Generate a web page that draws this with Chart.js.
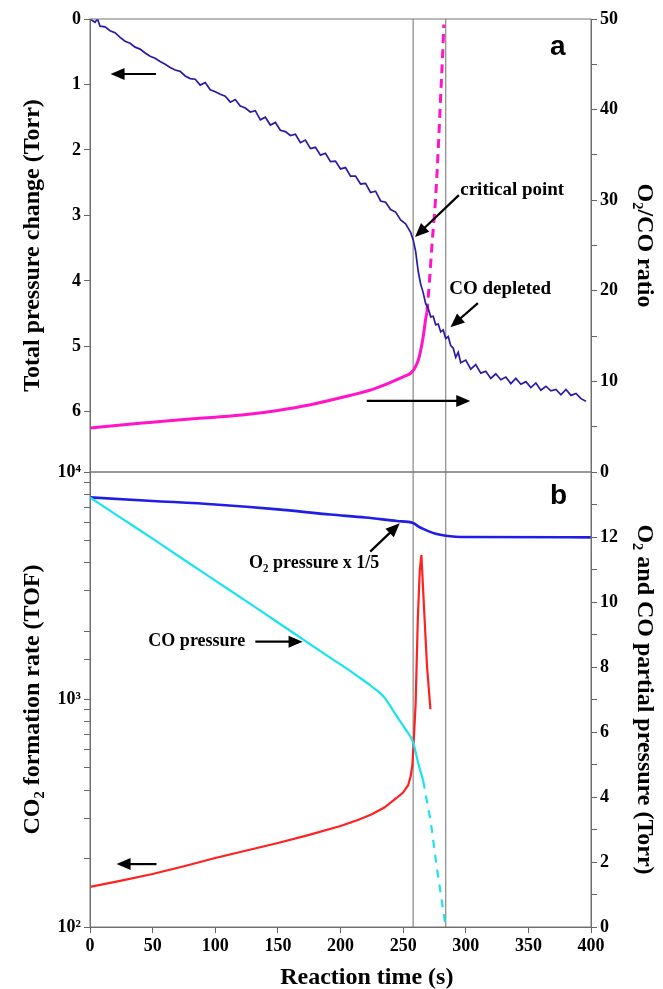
<!DOCTYPE html>
<html>
<head>
<meta charset="utf-8">
<script src="https://cdn.jsdelivr.net/npm/chart.js@4.4.1/dist/chart.umd.min.js"></script>
<style>
  html, body { margin: 0; padding: 0; background: #fff; }
  #wrap { position: relative; width: 663px; height: 989px; overflow: hidden; }
  #wrap canvas { position: absolute; left: 0; }
  #top { top: 0; }
  #bot { top: 440px; }
</style>
</head>
<body>
<div id="wrap">
  <canvas id="top" width="663" height="500"></canvas>
  <canvas id="bot" width="663" height="549"></canvas>
</div>
<script>
// ---- panel a: total pressure change (left, reversed) and O2/CO ratio (right)
const pressureTime = [0,4,6,8,12,16,20,24,28,32,36,40,44,48,52,56,60,64,68,72,76,80,84,88,92,96,
  100,104,108,112,116,120,124,128,132,136,140,144,148,152,156,160,164,168,172,176,180,184,188,192,196,
  200,204,208,212,216,220,224,228,232,236,240,244,248,252,256,258,260,262,264,266,268,270,272,274,276,
  278,280,282,284,286,288,290,292,294,296,300,304,308,312,316,320,324,328,332,336,340,344,348,352,356,
  360,364,368,372,376,380,384,388,392,396];
const pressureDrop = [0.00,0.05,0.00,0.11,0.12,0.18,0.21,0.28,0.34,0.37,0.43,0.46,0.52,0.57,0.60,0.65,0.69,0.74,0.78,0.80,0.87,0.91,0.92,1.01,0.97,1.08,
  1.11,1.15,1.18,1.27,1.23,1.33,1.36,1.42,1.40,1.54,1.50,1.62,1.58,1.70,1.72,1.78,1.76,1.89,1.85,1.98,1.96,2.08,2.05,2.18,2.17,
  2.29,2.27,2.40,2.40,2.52,2.51,2.65,2.63,2.78,2.80,2.91,2.95,3.07,3.13,3.26,3.37,3.55,3.85,4.05,4.18,4.35,4.42,4.55,4.54,4.67,
  4.66,4.78,4.75,4.88,4.85,4.99,5.03,5.17,5.09,5.25,5.21,5.35,5.28,5.41,5.38,5.49,5.42,5.51,5.47,5.57,5.49,5.58,5.54,5.63,5.56,
  5.67,5.61,5.68,5.66,5.74,5.66,5.75,5.72,5.80,5.84];
const pressureTicks = [0,1,2,3,4,5,6];

const ratioTime = [0,25,50,75,100,125,150,175,200,225,240,250,256,259,262,264,266,268,269];
const ratioVal  = [4.85,5.2,5.5,5.8,6.05,6.35,6.8,7.4,8.2,9.1,9.9,10.5,10.9,11.4,12.3,13.4,14.9,16.9,17.6];
const ratioDashTime = [269,271,273,275.8,278,279.8,281.5,282.5];
const ratioDashVal  = [17.6,21,25,30,35.5,41,46,49.4];

// ---- panel b: CO2 formation rate (left, log) and partial pressures (right)
const o2Time = [0,50,100,150,192,220,245,258,262,266,270,276,284,292,300,400];
const o2Val  = [13.22,13.11,13.0,12.85,12.69,12.6,12.49,12.43,12.33,12.25,12.18,12.1,12.04,12.01,12.0,11.99];
const coTime = [0,25,50,75,100,125,150,175,192,200,215,225,235,245,252,258,262,266];
const coVal  = [13.22,12.58,11.95,11.3,10.66,10.02,9.37,8.72,8.28,8.08,7.68,7.4,7.06,6.48,6.08,5.68,5.05,4.5];
const coDashTime = [266,272,277,284];
const coDashVal  = [4.5,3.25,1.8,0];
const rateTime = [0,25,50,75,100,125,150,175,200,215,225,235,245,250,254,256,257.5,259,260,261.7,263.3,264.6,266.5,269.1,271.8];
const rateVal  = [150,160,171,185,201,217,234,254,278,297,313,335,370,390,420,460,520,750,961,2233,3706,4315,2650,1393,906];

const markTimes = [258, 284];

const serif = "'Liberation Serif', 'Times New Roman', serif";
const tickFont = { family: serif, size: 18, weight: 'bold' };
const titleFont = { family: serif, size: 24, weight: 'bold' };
const LEFT_W = 90, RIGHT_W = 72;
const axisLine = { display: true, color: '#666', width: 1 };
const tickGrid = { drawOnChartArea: false, tickLength: 6, color: '#666' };

function pts(xs, ys) { return xs.map((x, i) => ({ x: x, y: ys[i] })); }

function drawArrow(ctx, x1, y1, x2, y2) {
  const a = Math.atan2(y2 - y1, x2 - x1), h = 14, w = 6;
  ctx.beginPath();
  ctx.moveTo(x1, y1);
  ctx.lineTo(x2 - Math.cos(a) * h * 0.8, y2 - Math.sin(a) * h * 0.8);
  ctx.stroke();
  ctx.beginPath();
  ctx.moveTo(x2, y2);
  ctx.lineTo(x2 - h * Math.cos(a) + w * Math.sin(a), y2 - h * Math.sin(a) - w * Math.cos(a));
  ctx.lineTo(x2 - h * Math.cos(a) - w * Math.sin(a), y2 - h * Math.sin(a) + w * Math.cos(a));
  ctx.closePath();
  ctx.fill();
}

// frame, the two vertical markers, and the text/arrow notes
function overlay(notes) {
  return {
    id: 'overlay',
    beforeDatasetsDraw(chart) {
      const { ctx, chartArea: ca, scales } = chart;
      ctx.save();
      ctx.strokeStyle = '#888';
      ctx.lineWidth = 1.2;
      markTimes.forEach(t => {
        const x = scales.x.getPixelForValue(t);
        ctx.beginPath(); ctx.moveTo(x, ca.top); ctx.lineTo(x, ca.bottom); ctx.stroke();
      });
      ctx.restore();
    },
    afterDraw(chart) {
      const { ctx, chartArea: ca, scales } = chart;
      ctx.save();
      ctx.strokeStyle = '#777';
      ctx.lineWidth = 1;
      ctx.strokeRect(ca.left, ca.top, ca.right - ca.left, ca.bottom - ca.top);
      ctx.fillStyle = '#000';
      ctx.strokeStyle = '#000';
      ctx.lineWidth = 2.2;
      notes.forEach(n => {
        const ys = scales[n.axis];
        if (n.arrow) {
          drawArrow(ctx, scales.x.getPixelForValue(n.arrow[0]), ys.getPixelForValue(n.arrow[1]),
                         scales.x.getPixelForValue(n.arrow[2]), ys.getPixelForValue(n.arrow[3]));
        } else {
          ctx.font = n.font;
          ctx.textAlign = n.align || 'left';
          ctx.textBaseline = 'middle';
          ctx.fillText(n.text, scales.x.getPixelForValue(n.at[0]), ys.getPixelForValue(n.at[1]));
        }
      });
      ctx.restore();
    }
  };
}

const noteFont = "bold 19px 'Liberation Serif', serif";
const noteFontB = "bold 18px 'Liberation Serif', serif";
const panelFont = "bold 28px 'Liberation Sans', Arial, sans-serif";

const topNotes = [
  { axis: 'yL', arrow: [52.7, 0.84, 16.4, 0.84] },
  { axis: 'yR', arrow: [221, 7.85, 303.6, 7.85] },
  { axis: 'yL', text: 'critical point', at: [295.6, 2.61], font: noteFont },
  { axis: 'yL', arrow: [294.5, 2.69, 259.5, 3.33] },
  { axis: 'yR', text: 'CO depleted', at: [286.8, 20.2], font: noteFont },
  { axis: 'yR', arrow: [309.7, 18.64, 287.8, 15.99] },
  { axis: 'yL', text: 'a', at: [373.5, 0.43], font: panelFont, align: 'center' }
];
const botNotes = [
  { axis: 'yL', arrow: [53.1, 189, 21.2, 189] },
  { axis: 'yR', text: 'O₂ pressure x 1/5', at: [127, 11.19], font: noteFontB },
  { axis: 'yR', arrow: [223.7, 11.55, 247.3, 12.42] },
  { axis: 'yR', text: 'CO pressure', at: [46.6, 8.78], font: noteFontB },
  { axis: 'yR', arrow: [132, 8.78, 169.7, 8.78] },
  { axis: 'yR', text: 'b', at: [374, 13.26], font: panelFont, align: 'center' }
];

const common = {
  responsive: false,
  animation: false,
  plugins: { legend: { display: false }, tooltip: { enabled: false } },
  elements: { point: { radius: 0 }, line: { tension: 0, fill: false } }
};

new Chart(document.getElementById('top'), {
  type: 'line',
  data: {
    datasets: [
      { data: pts(pressureTime, pressureDrop), yAxisID: 'yL', borderColor: '#2a1aa5', borderWidth: 1.7 },
      { data: pts(ratioTime, ratioVal), yAxisID: 'yR', borderColor: '#ff14c8', borderWidth: 3, cubicInterpolationMode: 'monotone' },
      { data: pts(ratioDashTime, ratioDashVal), yAxisID: 'yR', borderColor: '#ff14c8', borderWidth: 3, borderDash: [9, 6], cubicInterpolationMode: 'monotone' }
    ]
  },
  options: Object.assign({}, common, {
    layout: { padding: { top: 19, bottom: 28, left: 0, right: 0 } },
    scales: {
      x: { type: 'linear', min: 0, max: 400, display: false },
      yL: {
        position: 'left', reverse: true, min: 0, max: 6.92,
        afterBuildTicks: s => { s.ticks = pressureTicks.map(v => ({ value: v })); },
        afterFit: s => { s.width = LEFT_W; },
        grid: tickGrid, border: axisLine,
        ticks: { font: tickFont, color: '#000', padding: 3 },
        title: { display: true, text: 'Total pressure change (Torr)', font: titleFont, color: '#000', padding: { top: 18, bottom: 0 } }
      },
      yR: {
        position: 'right', min: 0, max: 50,
        afterFit: s => { s.width = RIGHT_W; },
        grid: tickGrid, border: axisLine,
        ticks: { stepSize: 5, font: tickFont, color: '#000', padding: 3, autoSkip: false,
                 callback: v => (v % 10 === 0 ? v : '') },
        title: { display: true, text: 'O₂/CO ratio', font: titleFont, color: '#000', padding: { top: 4, bottom: 0 } }
      }
    }
  }),
  plugins: [overlay(topNotes)]
});

const powLabels = { 100: '10²', 1000: '10³', 10000: '10⁴' };

new Chart(document.getElementById('bot'), {
  type: 'line',
  data: {
    datasets: [
      { data: pts(coTime, coVal), yAxisID: 'yR', borderColor: '#19e3f0', borderWidth: 2.2, cubicInterpolationMode: 'monotone' },
      { data: pts(coDashTime, coDashVal), yAxisID: 'yR', borderColor: '#19e3f0', borderWidth: 2.2, borderDash: [8, 7] },
      { data: pts(o2Time, o2Val), yAxisID: 'yR', borderColor: '#1e1ee6', borderWidth: 2.6, cubicInterpolationMode: 'monotone' },
      { data: pts(rateTime, rateVal), yAxisID: 'yL', borderColor: '#ff2020', borderWidth: 2.2 }
    ]
  },
  options: Object.assign({}, common, {
    layout: { padding: { top: 32, bottom: 22, left: 0, right: 0 } },
    scales: {
      x: {
        type: 'linear', min: 0, max: 400,
        afterFit: s => { s.height = 40; },
        grid: tickGrid, border: axisLine,
        ticks: { stepSize: 50, font: tickFont, color: '#000', padding: 3, maxRotation: 0 }
      },
      yL: {
        type: 'logarithmic', position: 'left', min: 100, max: 10000,
        afterFit: s => { s.width = LEFT_W; },
        grid: tickGrid, border: axisLine,
        ticks: { font: tickFont, color: '#000', padding: 3, autoSkip: false,
                 callback: v => powLabels[v] || '' },
        title: { display: true, text: 'CO₂ formation rate (TOF)', font: titleFont, color: '#000', padding: { top: 18, bottom: 0 } }
      },
      yR: {
        position: 'right', min: 0, max: 14,
        afterFit: s => { s.width = RIGHT_W; },
        grid: tickGrid, border: axisLine,
        ticks: { stepSize: 1, font: tickFont, color: '#000', padding: 3, autoSkip: false,
                 callback: v => (v % 2 === 0 && v < 14 ? v : '') },
        title: { display: true, text: 'O₂ and CO partial pressure (Torr)', font: titleFont, color: '#000', padding: { top: 4, bottom: 0 } }
      }
    }
  }),
  plugins: [overlay(botNotes), {
    id: 'xTitle',
    afterDraw(chart) {
      const { ctx, chartArea: ca, scales } = chart;
      ctx.save();
      ctx.font = "bold 24px 'Liberation Serif', serif";
      ctx.fillStyle = '#000';
      ctx.textAlign = 'center';
      ctx.textBaseline = 'middle';
      ctx.fillText('Reaction time (s)', scales.x.getPixelForValue(221), ca.bottom + 51);
      ctx.restore();
    }
  }]
});
</script>
</body>
</html>
